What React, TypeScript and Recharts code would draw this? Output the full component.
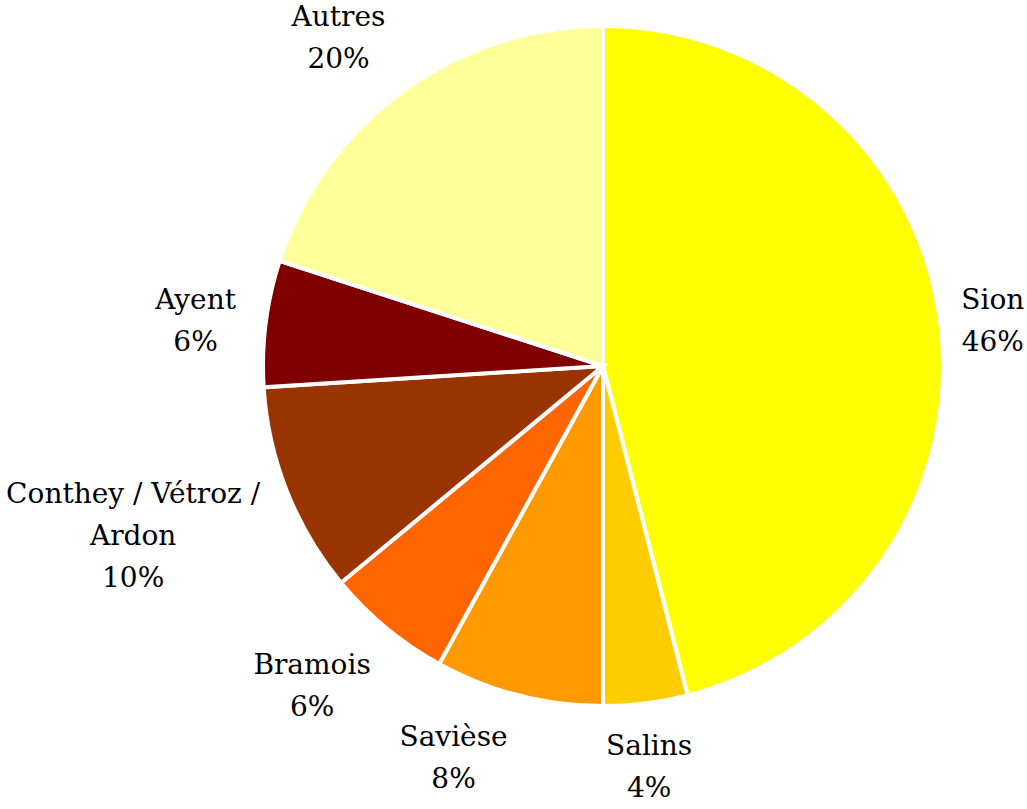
import { PieChart, Pie, Cell } from "recharts";

const communes = ["Sion", "Salins", "Savièse", "Bramois", "Conthey / Vétroz / Ardon", "Ayent", "Autres"];
const parts = [46, 4, 8, 6, 10, 6, 20];
const colors = ["#FFFF00", "#FFCC00", "#FF9900", "#FF6600", "#993300", "#800000", "#FFFF99"];

const data = communes.map((name, i) => ({ name, value: parts[i] }));

const W = 1027;
const H = 809;
const FONT = 28;
const LINE = 42;
const CAP = 20;

// word wrap like the office label box
const wrap = (s: string, max = 18) => {
  const words = s.split(" ");
  const lines: string[] = [];
  let cur = "";
  words.forEach((w) => {
    const next = cur ? cur + " " + w : w;
    if (next.length > max && cur) {
      lines.push(cur);
      cur = w;
    } else cur = next;
  });
  if (cur) lines.push(cur);
  return lines;
};

// rough DejaVu Serif advance widths
const textWidth = (s: string) =>
  s.split("").reduce((acc, ch) => {
    if (/[0-9]/.test(ch)) return acc + 0.64;
    if (ch === "%") return acc + 0.95;
    if (ch === " ") return acc + 0.32;
    if (ch === "/") return acc + 0.34;
    if (/[A-Z]/.test(ch)) return acc + 0.72;
    if (/[tirl]/.test(ch)) return acc + 0.42;
    return acc + 0.58;
  }, 0) * FONT;

const clamp = (v: number, a: number, b: number) => Math.max(a, Math.min(b, v));

// eslint-disable-next-line @typescript-eslint/no-explicit-any
const renderLabel = (props: any) => {
  const { cx, cy, midAngle, outerRadius, name, percent } = props;
  const rad = (-midAngle * Math.PI) / 180;
  const cos = Math.cos(rad);
  const sin = Math.sin(rad);
  const lines = [...wrap(name), `${Math.round(percent * 100)}%`];
  const w = Math.max(...lines.map(textWidth)) + 4;
  const h = (lines.length - 1) * LINE + CAP + 8;
  // anchor just outside the rim, box hangs off it like excel's outside-end labels
  const px = cx + (outerRadius + 28) * cos;
  const py = cy + (outerRadius + 28) * sin;
  const fx = Math.sign(cos) * clamp((Math.abs(cos) - 0.13) / 0.12, 0, 1);
  const fy = Math.sign(sin) * clamp((Math.abs(sin) - 0.13) / 0.4, 0, 1);
  const x = clamp(px + (fx * w) / 2, w / 2 + 2, W - w / 2);
  const y = clamp(py + (fy * h) / 2, h / 2 + 2, H - h / 2 - 4);
  const base = y - h / 2 + 4 + CAP;
  return (
    <text x={x} y={base} textAnchor="middle" fill="#000" fontSize={FONT} fontFamily="'DejaVu Serif', serif">
      {lines.map((l, i) => (
        <tspan key={i} x={x} dy={i === 0 ? 0 : LINE}>
          {l}
        </tspan>
      ))}
    </text>
  );
};

export default function App() {
  return (
    <div style={{ position: "absolute", left: 0, top: 0, width: W, height: H, background: "#fff" }}>
      <PieChart width={W} height={H} margin={{ top: 0, right: 0, bottom: 0, left: 0 }}>
        <Pie
          data={data}
          dataKey="value"
          nameKey="name"
          cx={603}
          cy={366}
          outerRadius={340}
          startAngle={90}
          endAngle={-270}
          stroke="#FFFFFF"
          strokeWidth={4}
          label={renderLabel}
          labelLine={false}
          isAnimationActive={false}
        >
          {data.map((d, i) => (
            <Cell key={d.name} fill={colors[i]} />
          ))}
        </Pie>
      </PieChart>
    </div>
  );
}
